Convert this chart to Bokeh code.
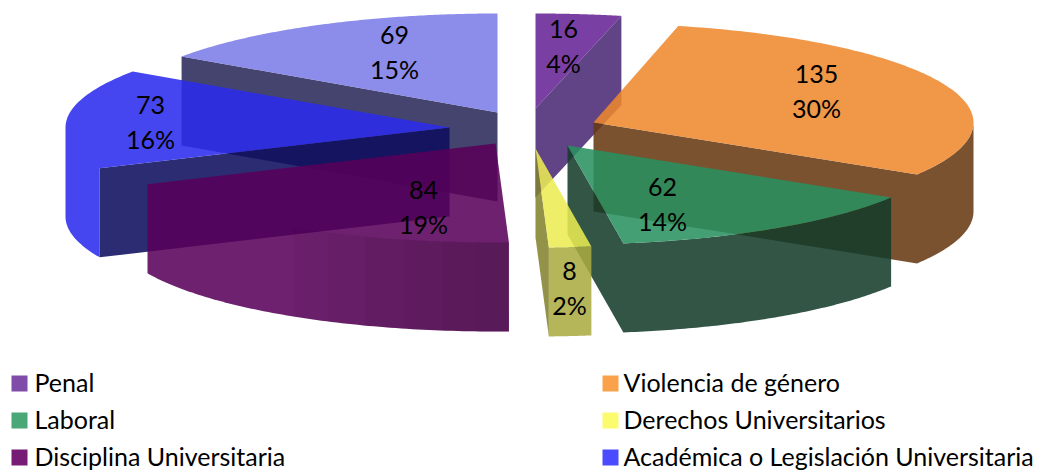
import numpy as np
from bokeh.plotting import figure
from bokeh.models import Range1d
from bokeh.core.properties import value
from bokeh.embed import file_html
from bokeh.resources import INLINE

# ---- data
categories = ["Penal", "Violencia de género", "Laboral", "Derechos Universitarios",
              "Disciplina Universitaria", "Académica o Legislación Universitaria", ""]
values = [16, 135, 62, 8, 84, 73, 69]

# ---- styling / layout
top_colors = ["#662295", "#ee882d", "#28915f", "#ebeb53", "#580058", "#2a2aee", "#7b7be8"]
arc_colors = ["#482874", "#663811", "#133c2a", "#aaaa41", "#580058", "#2a2aee", "#282858"]
edge_colors = ["#482874", "#663811", "#133c2a", "#82822e", "#4d0048", "#0d0d5e", "#282858"]
legend_colors = ["#7f4ca8", "#f9a24b", "#4aa877", "#fbfb6e", "#761b76", "#4a4aff"]
apex_x = [535, 593, 567, 535, 495, 449, 497]
apex_y = [108, 122, 145, 148, 143, 127, 112]
radius_x = [385, 380, 380, 380, 382, 384, 383]
radius_y = [95, 99, 99, 99, 99, 99, 99]
label_dx = [28, 223, 95, 34, -72, -299, -103]
label_dy = [-63, -32, 58, 139, 63, -6, -61]
draw_order = [0, 6, 1, 5, 2, 4, 3]
shade_slice = 4
shade_from = [212, 206, 200, 194, 188, 183]
DEPTH = 89
ALPHA = 0.87
FONT = value("Lato")
FS = "25px"
LINE = 34
W, H = 1041, 470

p = figure(width=W, height=H, output_backend="svg", toolbar_location=None,
           x_range=Range1d(0, W), y_range=Range1d(H, 0),
           min_border=0, outline_line_color=None, background_fill_color="white",
           border_fill_color="white")
p.axis.visible = False
p.grid.visible = False

total = sum(values)
edges = np.concatenate([[0], np.cumsum(values)]) / total * 360.0


def xy(i, deg, z=0.0):
    r = np.radians(deg)
    return apex_x[i] + radius_x[i] * np.sin(r), apex_y[i] - radius_y[i] * np.cos(r) + z


for i in draw_order:
    a0, a1 = edges[i], edges[i + 1]
    ax, ay = apex_x[i], apex_y[i]
    wall = None
    if np.sin(np.radians(a1)) > 0.01:
        wall = a1
    elif np.sin(np.radians(a0)) < -0.01:
        wall = a0
    lo, hi = max(a0, 90.0), min(a1, 270.0)
    has_rim = hi > lo
    merged_top = has_rim and arc_colors[i] == top_colors[i]

    if wall is not None and has_rim and edge_colors[i] == arc_colors[i]:
        th = np.linspace(lo, hi, 80)
        x, y = xy(i, th)
        xs = np.r_[ax, x[::-1], x, ax]
        ys = np.r_[ay, y[::-1], y + DEPTH, ay + DEPTH]
        p.patch(xs, ys, fill_color=arc_colors[i], fill_alpha=ALPHA, line_color=None)
    else:
        if wall is not None:
            ex, ey = xy(i, wall)
            p.patch([ax, ex, ex, ax], [ay, ey, ey + DEPTH, ay + DEPTH],
                    fill_color=edge_colors[i], fill_alpha=ALPHA, line_color=None)
        if has_rim and not merged_top:
            th = np.linspace(lo, hi, 80)
            x, y = xy(i, th)
            p.patch(np.r_[x, x[::-1]], np.r_[y, y[::-1] + DEPTH],
                    fill_color=arc_colors[i], fill_alpha=ALPHA, line_color=None)

    if merged_top:
        # top face and rim in one outline, so no seam runs between them
        x1, y1 = xy(i, np.linspace(a0, lo, 40))
        x2, y2 = xy(i, np.linspace(lo, hi, 80), DEPTH)
        x3, y3 = xy(i, np.linspace(hi, a1, 40))
        p.patch(np.r_[ax, x1, x2, x3], np.r_[ay, y1, y2, y3],
                fill_color=top_colors[i], fill_alpha=ALPHA, line_color=None)
    else:
        x, y = xy(i, np.linspace(a0, a1, 120))
        p.patch(np.r_[ax, x], np.r_[ay, y], fill_color=top_colors[i], fill_alpha=ALPHA,
                line_color=None)

    if i == shade_slice:
        for s in shade_from:
            x, y = xy(i, np.linspace(a0, s, 40))
            p.patch(np.r_[x, x[::-1]], np.r_[y, y[::-1] + DEPTH],
                    fill_color="#000000", fill_alpha=0.03, line_color=None)

# data labels
lx = [a + d for a, d in zip(apex_x, label_dx)]
ly = [a + d for a, d in zip(apex_y, label_dy)]
t1 = [str(v) for v in values]
t2 = [f"{round(v / total * 100)}%" for v in values]
p.text(lx, [y - LINE / 2 for y in ly], text=t1, text_font=FONT, text_font_size=FS,
       text_color="#000000", text_align="center", text_baseline="middle")
p.text(lx, [y + LINE / 2 for y in ly], text=t2, text_font=FONT, text_font_size=FS,
       text_color="#000000", text_align="center", text_baseline="middle")

# legend
col_x = [11, 602]
row_y = [383, 420, 457]
for k, name in enumerate(categories[:6]):
    cx = col_x[k % 2]
    cy = row_y[k // 2]
    p.quad(left=[cx], right=[cx + 16], top=[cy - 8], bottom=[cy + 8],
           fill_color=legend_colors[k], line_color=None)
    p.text([cx + 23 if k % 2 == 0 else cx + 21], [cy - 2], text=[name], text_font=FONT,
           text_font_size=FS, text_color="#000000", text_baseline="middle")

open("out.html", "w").write(file_html(p, INLINE))
